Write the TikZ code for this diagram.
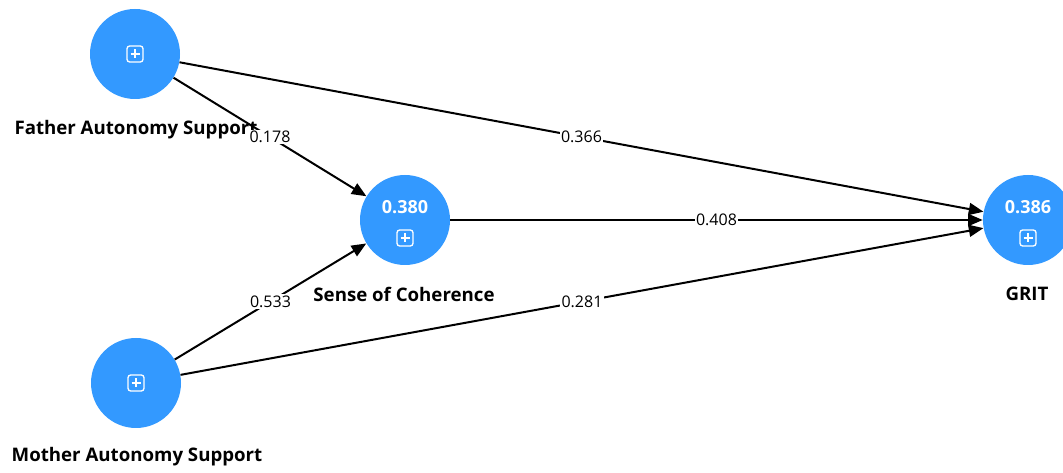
\documentclass[tikz,border=0pt]{standalone}
\usepackage{fontspec}
\setmainfont{Open Sans}
\usepackage{tikz}
\usetikzlibrary{arrows.meta,positioning,calc}
\definecolor{cBlue}{RGB}{51,153,255}

\begin{document}
\begin{tikzpicture}[x=0.75pt,y=-0.75pt,
    latent/.style={circle, fill=cBlue, minimum size=67.5pt, inner sep=0pt},
    varname/.style={font=\fontsize{14}{16}\selectfont\bfseries},
    rsq/.style={text=white, font=\fontsize{13.5}{15}\selectfont\bfseries},
    path/.style={line width=1.5pt, -{Triangle[length=11pt,width=9pt]}},
    coef/.style={fill=white, inner sep=1pt, font=\fontsize{12}{14}\selectfont}]
    \useasboundingbox (0,0) rectangle (1063,473);
    \newcommand\plusbox[1]{%
      \draw[white, line width=1pt, rounded corners=2pt] ($(#1)+(-8,-8)$) rectangle ($(#1)+(8,8)$);
      \draw[white, line width=1pt] ($(#1)+(-4.5,0)$) -- ($(#1)+(4.5,0)$) ($(#1)+(0,-4.5)$) -- ($(#1)+(0,4.5)$);}
    % constructs
    \node[latent] (father) at (135,54) {};
    \node[latent] (soc) at (405,220) {};
    \node[latent] (mother) at (136,383) {};
    \node[latent] (grit) at (1028,220) {};
    \node[rsq] (socR) at (405,207) {0.380};
    \node[rsq] (gritR) at (1028,207) {0.386};
    \plusbox{father}
    \plusbox{mother}
    \coordinate (socI) at (405,238);
    \coordinate (gritI) at (1028,238);
    \plusbox{socI}
    \plusbox{gritI}
    % names
    \node[varname] (fatherL) at (136,130) {Father Autonomy Support};
    \node[varname] (motherL) at (137,457) {Mother Autonomy Support};
    \node[varname] (socL) at (404,294) {Sense of Coherence};
    \node[varname] (gritL) at (1027,294) {GRIT};
    % paths
    \draw[path] (father) -- node[coef] (c1) {0.178} (soc);
    \draw[path] (mother) -- node[coef] (c2) {0.533} (soc);
    \draw[path] (father) -- node[coef] (c3) {0.366} (grit);
    \draw[path] (soc) -- node[coef] (c4) {0.408} (grit);
    \draw[path] (mother) -- node[coef] (c5) {0.281} (grit);
\end{tikzpicture}
\end{document}
